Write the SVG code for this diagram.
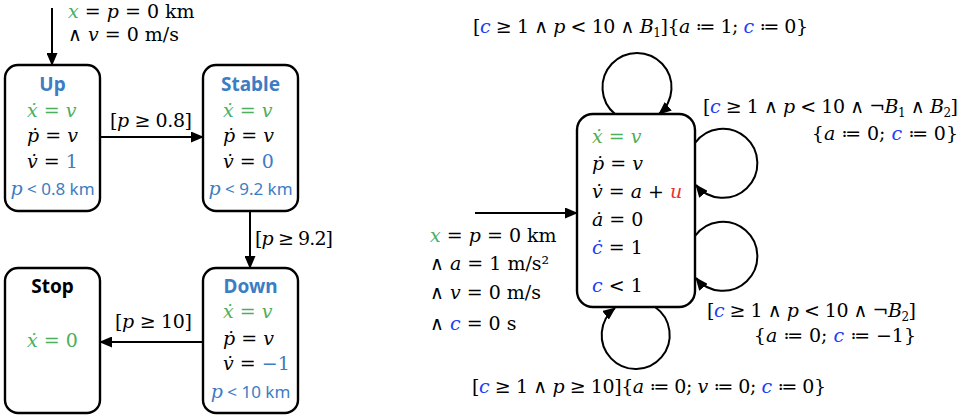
<svg xmlns="http://www.w3.org/2000/svg" width="973" height="416" viewBox="0 0 973 416">
<defs>
<marker id="ah" markerUnits="userSpaceOnUse" markerWidth="13" markerHeight="11" refX="12" refY="5.5" orient="auto">
<path d="M0,0 L13,5.5 L0,11 z" fill="#000"/>
</marker>
<style>
.box{fill:#fff;stroke:#000;stroke-width:2.4}
.ln{fill:none;stroke:#000;stroke-width:2}
.m{font-family:"DejaVu Serif","Liberation Serif",serif;font-size:19px;fill:#000}
.i{font-style:italic}
.g{fill:#4DAE5B}
.cb{fill:#2040F5}
.r{fill:#E8322B}
.tb{fill:#3C7DC4}
.ttl{font-family:"Noto Sans","Open Sans",sans-serif;font-weight:bold;font-size:19px;text-anchor:middle}
.inv{font-family:"Noto Sans","Open Sans",sans-serif;font-size:17px;fill:#3C7DC4;text-anchor:middle}
.sub{font-size:12px}
</style>
</defs>

<g id="connectors">
<line class="ln" x1="52" y1="8" x2="52" y2="65" marker-end="url(#ah)"/>
<line class="ln" x1="100" y1="137" x2="203" y2="137" marker-end="url(#ah)"/>
<line class="ln" x1="250" y1="211" x2="250" y2="268" marker-end="url(#ah)"/>
<line class="ln" x1="203" y1="342" x2="100" y2="342" marker-end="url(#ah)"/>
<line class="ln" x1="475" y1="213" x2="577" y2="213" marker-end="url(#ah)"/>
<path class="ln" d="M615,114 A34.5,34.5 0 1 1 659,114" marker-end="url(#ah)"/>
<path class="ln" d="M695,143 A34.5,34.5 0 1 1 696,185" marker-end="url(#ah)"/>
<path class="ln" d="M695,236 A34.5,34.5 0 1 1 696,278" marker-end="url(#ah)"/>
<path class="ln" d="M655,307 A34,34 0 1 1 615,308" marker-end="url(#ah)"/>
</g>

<g id="labels">
<text class="m" x="68" y="18"><tspan class="i g">x</tspan> = <tspan class="i">p</tspan> = 0 km</text>
<text class="m" x="68" y="41">∧ <tspan class="i">v</tspan> = 0 m/s</text>
<text class="m" x="110" y="127" textLength="82">[<tspan class="i">p</tspan> ≥ 0.8]</text>
<text class="m" x="255" y="245" textLength="78">[<tspan class="i">p</tspan> ≥ 9.2]</text>
<text class="m" x="115" y="328" textLength="77">[<tspan class="i">p</tspan> ≥ 10]</text>
<text class="m" x="473" y="33" textLength="335">[<tspan class="i cb">c</tspan> ≥ 1 ∧ <tspan class="i">p</tspan> &lt; 10 ∧ <tspan class="i">B</tspan><tspan class="sub" dy="4">1</tspan><tspan dy="-4">]{</tspan><tspan class="i">a</tspan> ≔ 1; <tspan class="i cb">c</tspan> ≔ 0}</text>
<text class="m" x="703" y="113" textLength="255">[<tspan class="i cb">c</tspan> ≥ 1 ∧ <tspan class="i">p</tspan> &lt; 10 ∧ ¬<tspan class="i">B</tspan><tspan class="sub" dy="4">1</tspan><tspan dy="-4"> ∧ </tspan><tspan class="i">B</tspan><tspan class="sub" dy="4">2</tspan><tspan dy="-4">]</tspan></text>
<text class="m" x="958" y="140" text-anchor="end">{<tspan class="i">a</tspan> ≔ 0; <tspan class="i cb">c</tspan> ≔ 0}</text>
<text class="m" x="707" y="317" textLength="209">[<tspan class="i cb">c</tspan> ≥ 1 ∧ <tspan class="i">p</tspan> &lt; 10 ∧ ¬<tspan class="i">B</tspan><tspan class="sub" dy="4">2</tspan><tspan dy="-4">]</tspan></text>
<text class="m" x="916" y="342" text-anchor="end">{<tspan class="i">a</tspan> ≔ 0; <tspan class="i cb">c</tspan> ≔ −1}</text>
<text class="m" x="472" y="393" textLength="354">[<tspan class="i cb">c</tspan> ≥ 1 ∧ <tspan class="i">p</tspan> ≥ 10]{<tspan class="i">a</tspan> ≔ 0; <tspan class="i">v</tspan> ≔ 0; <tspan class="i cb">c</tspan> ≔ 0}</text>
<text class="m" x="430" y="242"><tspan class="i g">x</tspan> = <tspan class="i">p</tspan> = 0 km</text>
<text class="m" x="430" y="270">∧ <tspan class="i">a</tspan> = 1 m/s²</text>
<text class="m" x="430" y="299">∧ <tspan class="i">v</tspan> = 0 m/s</text>
<text class="m" x="430" y="330">∧ <tspan class="i cb">c</tspan> = 0 s</text>
</g>

<g id="up">
<rect class="box" x="5" y="65" width="95" height="146" rx="13"/>
<text class="ttl tb" x="52.5" y="91">Up</text>
<text class="m g" x="27" y="117"><tspan class="i">ẋ</tspan> = <tspan class="i">v</tspan></text>
<text class="m" x="27" y="142"><tspan class="i">ṗ</tspan> = <tspan class="i">v</tspan></text>
<text class="m" x="27" y="168"><tspan class="i">v̇</tspan> = <tspan class="tb">1</tspan></text>
<text class="inv" x="52.5" y="195"><tspan class="m i tb">p</tspan> &lt; 0.8 km</text>
</g>

<g id="stable">
<rect class="box" x="203" y="65" width="95" height="146" rx="13"/>
<text class="ttl tb" x="250.5" y="91">Stable</text>
<text class="m g" x="223" y="117"><tspan class="i">ẋ</tspan> = <tspan class="i">v</tspan></text>
<text class="m" x="223" y="142"><tspan class="i">ṗ</tspan> = <tspan class="i">v</tspan></text>
<text class="m" x="223" y="168"><tspan class="i">v̇</tspan> = <tspan class="tb">0</tspan></text>
<text class="inv" x="250.5" y="195"><tspan class="m i tb">p</tspan> &lt; 9.2 km</text>
</g>

<g id="down">
<rect class="box" x="203" y="268" width="95" height="145" rx="13"/>
<text class="ttl tb" x="250.5" y="293">Down</text>
<text class="m g" x="223" y="318"><tspan class="i">ẋ</tspan> = <tspan class="i">v</tspan></text>
<text class="m" x="223" y="345"><tspan class="i">ṗ</tspan> = <tspan class="i">v</tspan></text>
<text class="m" x="223" y="370"><tspan class="i">v̇</tspan> = <tspan class="tb">−1</tspan></text>
<text class="inv" x="250.5" y="398"><tspan class="m i tb">p</tspan> &lt; 10 km</text>
</g>

<g id="stop">
<rect class="box" x="5" y="268" width="95" height="145" rx="13"/>
<text class="ttl" x="52.5" y="293">Stop</text>
<text class="m g" x="27" y="347"><tspan class="i">ẋ</tspan> = 0</text>
</g>

<g id="main">
<rect class="box" x="577" y="114" width="118" height="193" rx="16"/>
<text class="m g" x="592" y="143"><tspan class="i">ẋ</tspan> = <tspan class="i">v</tspan></text>
<text class="m" x="592" y="170"><tspan class="i">ṗ</tspan> = <tspan class="i">v</tspan></text>
<text class="m" x="592" y="198"><tspan class="i">v̇</tspan> = <tspan class="i">a</tspan> + <tspan class="i r">u</tspan></text>
<text class="m" x="592" y="226"><tspan class="i">ȧ</tspan> = 0</text>
<text class="m" x="592" y="254"><tspan class="i cb">ċ</tspan> = 1</text>
<text class="m" x="592" y="292"><tspan class="i cb">c</tspan> &lt; 1</text>
</g>
</svg>
